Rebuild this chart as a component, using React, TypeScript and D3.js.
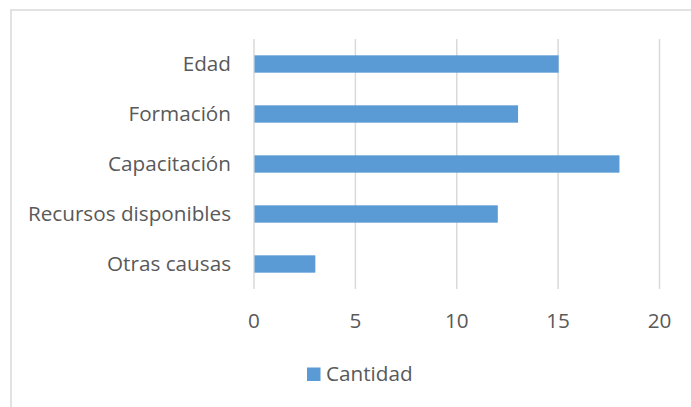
import React from "react";
import * as d3 from "d3";

const categories = ["Edad", "Formación", "Capacitación", "Recursos disponibles", "Otras causas"];
const values = [15, 13, 18, 12, 3];
const ticks = [0, 5, 10, 15, 20];
const seriesName = "Cantidad";

export default function App() {
  const W = 691, H = 407;
  const x = d3.scaleLinear().domain([0, 20]).range([254, 659.5]);
  const y = d3.scaleBand().domain(categories).range([39, 289]).paddingInner(0.653).paddingOuter(0.3265);
  const font = "'Open Sans', 'Noto Sans', sans-serif";
  const fs = 20.7;
  const txt = "#595959";
  const grid = "#d9d9d9";
  return (
    <svg width={W} height={H} style={{ position: "absolute", left: 0, top: 0, background: "#fff" }}>
      <rect x={0} y={0} width={W} height={H} fill="#fff" />
      <rect x={11} y={10} width={W + 10} height={H + 10} fill="none" stroke={grid} strokeWidth={1.5} />
      {ticks.map((t) => (
        <line key={t} x1={x(t)} x2={x(t)} y1={39} y2={289} stroke={grid} strokeWidth={1.5} />
      ))}
      {categories.map((c, i) => (
        <rect key={c} x={x(0) + 0.5} y={y(c)!} width={x(values[i]) - x(0)} height={y.bandwidth()} fill="#5b9bd5" />
      ))}
      {categories.map((c) => (
        <text key={c} x={231} y={y(c)! + y.bandwidth() / 2 + 7} textAnchor="end" fontFamily={font} fontSize={fs} fill={txt}>
          {c}
        </text>
      ))}
      {ticks.map((t) => (
        <text key={t} x={x(t)} y={328} textAnchor="middle" fontFamily={font} fontSize={fs} fill={txt}>
          {t}
        </text>
      ))}
      <rect x={307} y={367.5} width={13.5} height={13.5} fill="#5b9bd5" />
      <text x={326} y={381} fontFamily={font} fontSize={fs} fill={txt}>
        {seriesName}
      </text>
    </svg>
  );
}
